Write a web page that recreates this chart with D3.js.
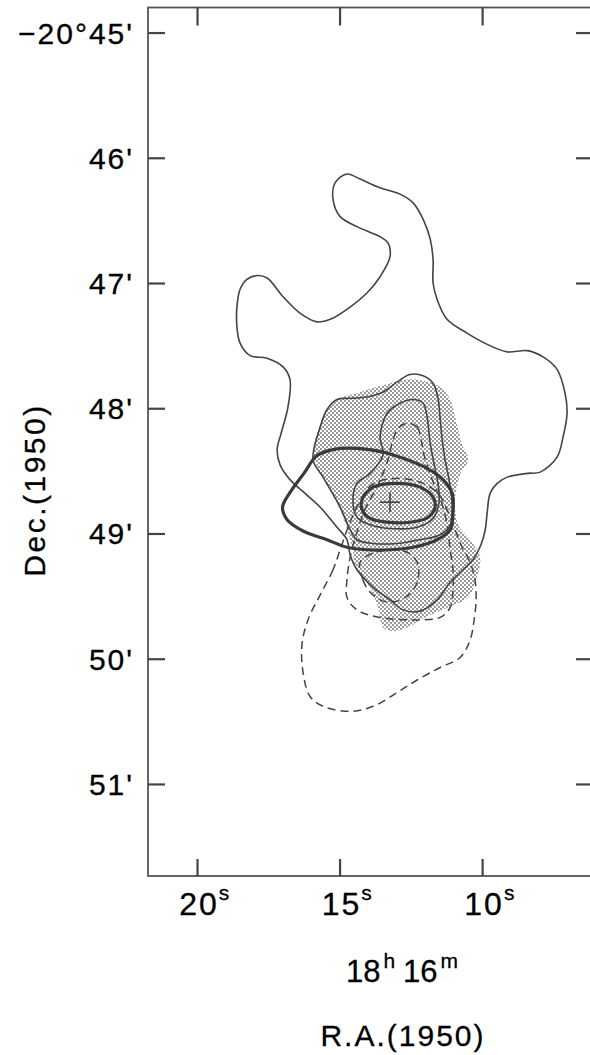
<!DOCTYPE html>
<meta charset="utf-8">
<script src="https://d3js.org/d3.v7.min.js"></script>
<style>
  body { margin: 0; background: #fff; }
  svg { display: block; }
  .lbl { font-family: 'Liberation Sans', Arial, Helvetica, sans-serif; fill: #000; stroke: #000; stroke-width: 0.3px; }
  .axis path { display: none; }
  .axis line { stroke: #444; stroke-width: 2.2px; }
  .frame { fill: none; stroke: #555; stroke-width: 1.8px; }
  .c-thin { fill: none; stroke: #444; stroke-width: 1.6px; }
  .c-thick { fill: none; stroke: #3a3a3a; stroke-width: 3.2px; }
  .c-dash { fill: none; stroke: #444; stroke-width: 1.5px; stroke-dasharray: 8,5; }
</style>
<div id="chart"></div>
<script>
// axis ticks: R.A. seconds of 18h16m, Dec. arcmin of -20 deg
const raTicks = [20, 15, 10];
const raLabels = ["20", "15", "10"];
const decTicks = [45, 46, 47, 48, 49, 50, 51];
const decLabels = ["\u221220\u00b045'", "46'", "47'", "48'", "49'", "50'", "51'"];

// contours, [R.A. s, Dec. arcmin]
const outerContour = [
  [14.74,46.13],[14.28,46.17],[13.58,46.24],[12.88,46.29],[12.42,46.36],[12.07,46.49],[11.82,46.65],
  [11.72,46.81],[11.72,47.00],[11.58,47.13],[11.23,47.29],[10.53,47.40],[9.82,47.49],[9.12,47.55],
  [8.42,47.54],[7.86,47.59],[7.37,47.69],[7.09,47.88],[7.02,48.04],[7.16,48.23],[7.37,48.39],
  [7.96,48.51],[8.42,48.52],[9.12,48.55],[9.47,48.60],[9.72,48.68],[9.82,48.83],[9.89,48.97],
  [10.04,49.09],[10.32,49.21],[10.67,49.29],[11.12,49.39],[11.58,49.53],[12.18,49.62],[12.77,49.61],
  [13.23,49.53],[13.82,49.43],[14.39,49.29],[14.63,49.17],[14.74,49.05],[15.09,48.95],[15.68,48.79],
  [16.21,48.68],[16.74,48.57],[17.09,48.45],[17.19,48.33],[17.05,48.20],[16.81,47.99],[16.74,47.77],
  [16.98,47.67],[17.54,47.60],[18.14,47.58],[18.49,47.48],[18.60,47.35],[18.60,47.19],[18.49,47.05],
  [18.25,46.97],[17.89,46.94],[17.54,46.96],[16.98,47.11],[16.39,47.24],[15.79,47.31],[15.33,47.29],
  [14.74,47.21],[14.04,47.08],[13.58,46.95],[13.23,46.79],[13.30,46.68],[13.58,46.63],[14.39,46.55],
  [14.98,46.47],[15.23,46.33],[15.16,46.20]
];
const shadedRegion = [
  [15.93,48.35],[15.75,48.17],[15.44,48.01],[14.98,47.92],[14.39,47.88],[13.86,47.84],[13.23,47.80],
  [12.63,47.77],[12.07,47.78],[11.47,47.83],[11.12,47.93],[10.88,48.13],[10.70,48.29],[10.49,48.41],
  [10.77,48.53],[10.95,48.73],[10.84,48.93],[10.42,49.05],[10.07,49.19],[10.18,49.35],[10.49,49.51],
  [11.19,49.59],[12.00,49.67],[12.63,49.75],[13.12,49.78],[13.47,49.75],[13.65,49.59],[14.04,49.39],
  [14.46,49.25],[14.56,49.11],[14.91,48.85],[15.44,48.61],[15.75,48.48]
];
const thinMid = [
  [15.93,48.41],[15.68,48.15],[15.44,48.01],[15.09,47.93],[14.63,47.92],[14.04,47.91],[13.47,47.87],
  [12.98,47.79],[12.53,47.73],[12.07,47.74],[11.72,47.80],[11.54,47.93],[11.47,48.09],[11.40,48.25],
  [11.30,48.41],[11.16,48.57],[11.05,48.77],[11.12,48.93],[11.47,49.01],[12.18,49.05],[12.98,49.08],
  [13.82,49.08],[14.39,49.05],[14.63,48.97],[14.98,48.79],[15.58,48.55]
];
const thinInner = [
  [13.47,48.37],[13.58,48.23],[13.33,48.04],[12.88,47.96],[12.42,47.93],[12.07,47.96],[11.93,48.07],
  [11.82,48.28],[11.68,48.45],[11.54,48.61],[11.51,48.75],[11.72,48.88],[12.28,48.95],[13.23,48.96],
  [13.93,48.93],[14.39,48.87],[14.53,48.73],[14.39,48.60],[13.93,48.52]
];
const thickOuter = [
  [15.23,48.33],[14.39,48.32],[13.47,48.35],[12.77,48.40],[11.93,48.48],[11.37,48.57],[11.05,48.68],
  [11.02,48.83],[11.12,48.97],[11.58,49.05],[12.42,49.11],[13.23,49.13],[14.04,49.13],[14.74,49.11],
  [15.44,49.05],[16.28,48.98],[16.84,48.89],[17.00,48.79],[16.70,48.66],[16.25,48.52],[15.80,48.38]
];
const thickInner = [
  [14.21,48.73],[13.82,48.63],[12.98,48.60],[12.18,48.63],[11.72,48.71],[11.65,48.79],[11.89,48.87],
  [12.53,48.91],[13.33,48.91],[13.93,48.88],[14.21,48.81]
];
const dashedBig = [
  [14.98,49.13],[15.23,49.29],[15.68,49.49],[16.11,49.69],[16.32,49.89],[16.28,50.11],[16.04,50.30],
  [15.58,50.38],[14.63,50.42],[13.82,50.38],[12.98,50.27],[12.28,50.17],[11.47,50.07],[10.77,49.99],
  [10.42,49.85],[10.28,49.69],[10.21,49.53],[10.25,49.37],[10.42,49.23],[10.70,49.11],[10.95,48.97],
  [11.23,48.81],[11.54,48.68],[12.18,48.59],[13.05,48.56],[13.86,48.61],[14.35,48.77],[14.70,48.95]
];
const dashedMid = [
  [12.63,48.12],[12.28,48.15],[12.14,48.25],[12.04,48.37],[11.75,48.57],[11.40,48.77],[11.23,48.93],
  [11.12,49.13],[11.02,49.29],[11.02,49.45],[11.12,49.59],[11.47,49.67],[12.42,49.69],[13.58,49.67],
  [14.39,49.61],[14.74,49.51],[14.74,49.37],[14.63,49.19],[14.42,49.01],[14.11,48.81],[13.65,48.61],
  [13.33,48.43],[13.12,48.25],[12.95,48.16]
];
const dashedLoop = [
  [14.28,49.23],[14.18,49.37],[13.93,49.47],[13.47,49.54],[12.98,49.54],[12.53,49.48],[12.25,49.37],
  [12.28,49.23],[12.63,49.15],[13.23,49.13],[13.86,49.16]
];
const peak = [13.23, 48.75];

const W = 590, H = 1055;
const svg = d3.select("#chart").append("svg")
  .attr("width", W).attr("height", H);

// R.A. grows to the left
let x = d3.scaleLinear().domain([21.72, 6.18]).range([148, 591]);
let y = d3.scaleLinear().domain([44.8, 51.735]).range([7.5, 876]);

// stipple for the shaded area
let pat = svg.append("defs").append("pattern")
  .attr("id", "stip").attr("patternUnits", "userSpaceOnUse")
  .attr("width", 4).attr("height", 4);
pat.append("circle").attr("cx", 1).attr("cy", 1).attr("r", 0.9).attr("fill", "#6a6a6a");
pat.append("circle").attr("cx", 3).attr("cy", 3).attr("r", 0.9).attr("fill", "#6a6a6a");

let line = d3.line()
  .x(function (d) { return x(d[0]); })
  .y(function (d) { return y(d[1]); })
  .curve(d3.curveCatmullRomClosed.alpha(0.5));

svg.append("path").attr("d", line(shadedRegion))
  .attr("fill", "url(#stip)").attr("stroke", "none");

[outerContour, thinMid, thinInner].forEach(function (c) {
  svg.append("path").attr("class", "c-thin").attr("d", line(c));
});
[dashedBig, dashedMid, dashedLoop].forEach(function (c) {
  svg.append("path").attr("class", "c-dash").attr("d", line(c));
});
[thickOuter, thickInner].forEach(function (c) {
  svg.append("path").attr("class", "c-thick").attr("d", line(c));
});

// peak marker
svg.append("line").attr("class", "c-thin")
  .attr("x1", x(peak[0]) - 10).attr("x2", x(peak[0]) + 10)
  .attr("y1", y(peak[1])).attr("y2", y(peak[1]));
svg.append("line").attr("class", "c-thin")
  .attr("x1", x(peak[0])).attr("x2", x(peak[0]))
  .attr("y1", y(peak[1]) - 10).attr("y2", y(peak[1]) + 10);

// frame
svg.append("rect").attr("class", "frame")
  .attr("x", x.range()[0]).attr("y", y.range()[0])
  .attr("width", x.range()[1] - x.range()[0])
  .attr("height", y.range()[1] - y.range()[0]);

// inward ticks on all four sides
svg.append("g").attr("class", "axis")
  .attr("transform", "translate(" + x.range()[0] + ",0)")
  .call(d3.axisLeft(y).tickValues(decTicks).tickSize(-17).tickFormat(""));
svg.append("g").attr("class", "axis")
  .attr("transform", "translate(" + x.range()[1] + ",0)")
  .call(d3.axisRight(y).tickValues(decTicks).tickSize(-15).tickFormat(""));
svg.append("g").attr("class", "axis")
  .attr("transform", "translate(0," + y.range()[1] + ")")
  .call(d3.axisBottom(x).tickValues(raTicks).tickSize(-17).tickFormat(""));
svg.append("g").attr("class", "axis")
  .attr("transform", "translate(0," + y.range()[0] + ")")
  .call(d3.axisTop(x).tickValues(raTicks).tickSize(-18).tickFormat(""));

// Dec tick labels
svg.selectAll(".declbl")
  .data(decTicks)
  .enter().append("text")
  .attr("class", "lbl")
  .attr("x", 134)
  .attr("y", function (d) { return y(d) + 11; })
  .attr("text-anchor", "end")
  .style("font-size", "30px")
  .style("letter-spacing", "2px")
  .text(function (d, i) { return decLabels[i]; });

// R.A. tick labels with superscript s
raTicks.forEach(function (t, i) {
  let tx = svg.append("text").attr("class", "lbl")
    .attr("x", x(t) + 2).attr("y", y.range()[1] + 39)
    .attr("text-anchor", "middle")
    .style("font-size", "32px").style("letter-spacing", "2px")
    .text(raLabels[i]);
  let bb = tx.node().getBBox();
  svg.append("text").attr("class", "lbl")
    .attr("x", bb.x + bb.width).attr("y", y.range()[1] + 24)
    .style("font-size", "21px")
    .text("s");
});

// 18h 16m
let hm = svg.append("text").attr("class", "lbl")
  .attr("x", 402).attr("y", 982)
  .attr("text-anchor", "middle")
  .style("font-size", "31px");
hm.append("tspan").text("18");
hm.append("tspan").attr("dx", 3).attr("dy", -14).style("font-size", "21px").text("h");
hm.append("tspan").attr("dx", 8).attr("dy", 14).text("16");
hm.append("tspan").attr("dx", 3).attr("dy", -14).style("font-size", "21px").text("m");

// axis titles
svg.append("text").attr("class", "lbl")
  .attr("x", 403).attr("y", 1046)
  .attr("text-anchor", "middle")
  .style("font-size", "30px").style("letter-spacing", "2px")
  .text("R.A.(1950)");

svg.append("text").attr("class", "lbl")
  .attr("transform", "translate(45,490) rotate(-90)")
  .attr("text-anchor", "middle")
  .style("font-size", "30px").style("letter-spacing", "2.5px")
  .text("Dec.(1950)");
</script>
